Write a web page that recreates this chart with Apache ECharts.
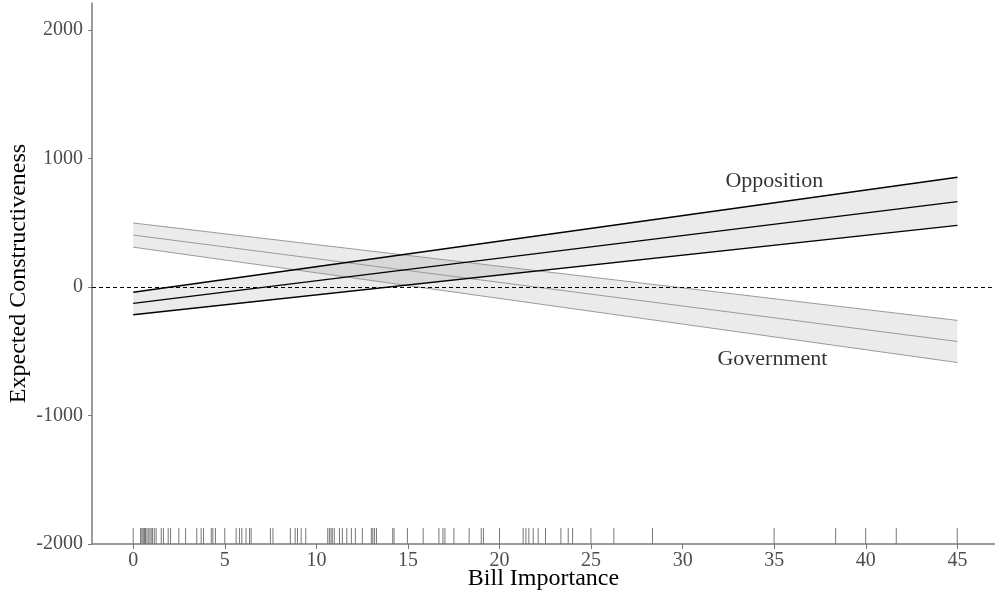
<!DOCTYPE html>
<html>
<head>
<meta charset="utf-8">
<title>Expected Constructiveness by Bill Importance</title>
<script src="https://cdn.jsdelivr.net/npm/echarts@6/dist/echarts.min.js"></script>
<style>
  html, body { margin: 0; padding: 0; background: #ffffff; }
  #chart { width: 995px; height: 594px; }
</style>
</head>
<body>
<div id="chart"></div>
<script>
// Predicted values at the two ends of the bill-importance range
const xEnds = [0, 45];

// Opposition: point estimate and confidence bounds
const oppMid = [-127, 664];
const oppLow = [-216, 479];
const oppHigh = [-41, 854];

// Government: point estimate and confidence bounds
const govMid = [404, -424];
const govLow = [310, -588];
const govHigh = [498, -260];

// Observed bill importance values (rug)
const rugValues = [
  0, 0.40, 0.47, 0.53, 0.58, 0.62, 0.67, 0.75, 0.82, 0.91, 0.98, 1.05, 1.15, 1.25,
  1.53, 1.65, 1.91, 2.04, 2.49, 2.86, 3.47, 3.71, 3.84, 4.26, 4.35, 4.49, 5.0,
  5.62, 5.80, 5.93, 6.16, 6.35, 6.44, 7.49, 7.63, 8.58, 8.84, 8.97, 9.17, 9.42,
  10.62, 10.71, 10.80, 10.87, 10.98, 11.26, 11.42, 11.66, 11.91, 12.13, 12.51,
  13.00, 13.08, 13.17, 13.28, 14.17, 14.24, 14.97, 15.83, 16.69, 16.91, 17.02,
  17.51, 18.34, 19.00, 19.12, 20.0, 21.29, 21.44, 21.60, 21.84, 22.11, 22.51,
  23.35, 23.75, 23.99, 24.99, 26.24, 28.35, 34.99, 38.35, 39.99, 41.66, 44.99
];

// Tick positions
const xTicks = [0, 5, 10, 15, 20, 25, 30, 35, 40, 45];
const yTicks = [-2000, -1000, 0, 1000, 2000];

// Group labels and where they sit in data space
const groupNames = ['Opposition', 'Government'];
const groupLabelX = [35.0, 34.9];
const groupLabelY = [825, -565];

const SERIF = '"Liberation Serif", "DejaVu Serif", serif';
const pairs = (ys) => xEnds.map((x, i) => [x, ys[i]]);

// Confidence band: one polygon per x-segment, built from the low/high bounds
function bandSeries(low, high) {
  return {
    type: 'custom', silent: true, z: 1,
    data: xEnds.map((x, i) => [x, low[i], high[i]]),
    renderItem: function (params, api) {
      const i = params.dataIndex;
      if (i >= xEnds.length - 1) return null;
      const pts = [
        api.coord([xEnds[i], low[i]]),
        api.coord([xEnds[i + 1], low[i + 1]]),
        api.coord([xEnds[i + 1], high[i + 1]]),
        api.coord([xEnds[i], high[i]])
      ];
      return {
        type: 'polygon',
        shape: { points: pts },
        style: { fill: 'rgba(0,0,0,0.08)', stroke: 'none' }
      };
    }
  };
}

function lineSeries(ys, color, width) {
  return {
    type: 'line', data: pairs(ys), symbol: 'none', silent: true, z: 3,
    lineStyle: { color: color, width: width }
  };
}

const chart = echarts.init(document.getElementById('chart'), null, { renderer: 'canvas' });

const option = {
  animation: false,
  backgroundColor: '#ffffff',
  grid: { left: 92, right: 0, top: 3, bottom: 50, containLabel: false, outerBoundsMode: 'none' },
  xAxis: {
    type: 'value', min: -2.25, max: 47.05,
    name: 'Bill Importance', nameLocation: 'middle', nameGap: 23, nameMoveOverlap: false,
    nameTextStyle: { fontFamily: SERIF, fontSize: 24, color: '#000000' },
    axisLine: { show: true, onZero: false, lineStyle: { color: '#7a7a7a', width: 1.5 } },
    axisTick: { show: true, length: 5, customValues: xTicks, lineStyle: { color: '#7a7a7a', width: 1 } },
    axisLabel: {
      customValues: xTicks, fontFamily: SERIF, fontSize: 20, color: '#4d4d4d', margin: 7,
      formatter: (v) => String(v)
    },
    splitLine: { show: false }
  },
  yAxis: {
    type: 'value', min: -2000, max: 2210,
    name: 'Expected Constructiveness', nameLocation: 'middle', nameGap: 61, nameMoveOverlap: false,
    nameTextStyle: { fontFamily: SERIF, fontSize: 24, color: '#000000' },
    axisLine: { show: true, onZero: false, lineStyle: { color: '#7a7a7a', width: 1.5 } },
    axisTick: { show: true, length: 4, customValues: yTicks, lineStyle: { color: '#7a7a7a', width: 1 } },
    axisLabel: {
      customValues: yTicks, fontFamily: SERIF, fontSize: 20, color: '#4d4d4d', margin: 9,
      formatter: (v) => String(v)
    },
    splitLine: { show: false }
  },
  series: [
    bandSeries(oppLow, oppHigh),
    bandSeries(govLow, govHigh),
    lineSeries(govLow, '#9a9a9a', 1),
    lineSeries(govMid, '#9a9a9a', 1),
    lineSeries(govHigh, '#9a9a9a', 1),
    lineSeries(oppLow, '#000000', 1.3),
    lineSeries(oppMid, '#000000', 1.3),
    lineSeries(oppHigh, '#000000', 1.3),
    {
      // reference line at zero
      type: 'line', data: [], silent: true, z: 4,
      markLine: {
        silent: true, symbol: 'none', label: { show: false },
        lineStyle: { color: '#000000', width: 1, type: [4, 3] },
        data: [{ yAxis: 0 }]
      }
    },
    {
      // rug of observed values along the x axis
      type: 'custom', silent: true, z: 2,
      data: rugValues.map(v => [v, -2000]),
      renderItem: function (params, api) {
        const base = api.coord([api.value(0), api.value(1)]);
        return {
          type: 'line',
          shape: { x1: base[0], y1: base[1], x2: base[0], y2: base[1] - 16 },
          style: { stroke: '#777777', lineWidth: 1 }
        };
      }
    },
    {
      // group names
      type: 'scatter', symbolSize: 0, silent: true, z: 5,
      data: groupNames.map((n, i) => ({ name: n, value: [groupLabelX[i], groupLabelY[i]] })),
      label: {
        show: true, position: 'inside', formatter: '{b}',
        fontFamily: SERIF, fontSize: 22, color: '#000000'
      }
    }
  ]
};

chart.setOption(option);
</script>
</body>
</html>
